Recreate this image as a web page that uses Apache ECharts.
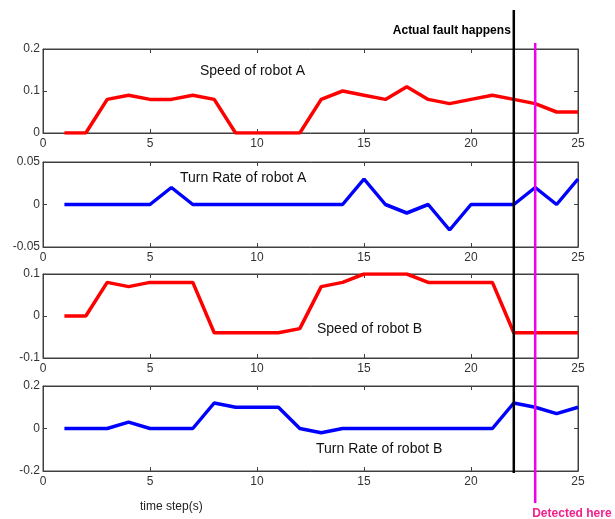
<!DOCTYPE html>
<html>
<head>
<meta charset="utf-8">
<script src="https://cdn.jsdelivr.net/npm/echarts@6/dist/echarts.min.js"></script>
<style>
html,body{margin:0;padding:0;background:#fff;}
#main{width:615px;height:519px;}
</style>
</head>
<body>
<div id="main"></div>
<script>
var timeSteps = [1,2,3,4,5,6,7,8,9,10,11,12,13,14,15,16,17,18,19,20,21,22,23,24,25];
var speedA = [0,0,0.08,0.09,0.08,0.08,0.09,0.08,0,0,0,0,0.08,0.10,0.09,0.08,0.11,0.08,0.07,0.08,0.09,0.08,0.07,0.05,0.05];
var turnA = [0,0,0,0,0,0.02,0,0,0,0,0,0,0,0,0.03,0,-0.01,0,-0.03,0,0,0,0.02,0,0.03];
var speedB = [0,0,0.08,0.07,0.08,0.08,0.08,-0.04,-0.04,-0.04,-0.04,-0.03,0.07,0.08,0.10,0.10,0.10,0.08,0.08,0.08,0.08,-0.04,-0.04,-0.04,-0.04];
var turnB = [0,0,0,0.03,0,0,0,0.12,0.10,0.10,0.10,0,-0.02,0,0,0,0,0,0,0,0,0.12,0.10,0.07,0.10];
var panelTitles = ['Speed of robot A','Turn Rate of robot A','Speed of robot B','Turn Rate of robot B'];
var yRanges = [[0,0.2,0.1],[-0.05,0.05,0.05],[-0.1,0.1,0.1],[-0.2,0.2,0.2]];
var xTicks = [0,25,5];
var faultStep = 22;
var detectStep = 23;
var xLabel = 'time step(s)';
var faultText = 'Actual fault happens';
var detectText = 'Detected here';

var chart = echarts.init(document.getElementById('main'), null, {renderer:'canvas'});
var gridTops = [49,162,274,386];
var gridHeights = [84,85,84,85];
var seriesData = [speedA, turnA, speedB, turnB];
var colors = ['#ff0000','#0000ff','#ff0000','#0000ff'];
var axisColor = '#404040';
var font = 'Arial, "Liberation Sans", sans-serif';

var grids=[], xAxes=[], yAxes=[], series=[];
for (var i=0;i<4;i++){
  grids.push({left:43, width:535, top:gridTops[i], height:gridHeights[i], show:true, borderColor:axisColor, borderWidth:1, backgroundColor:'#fff'});
  var xBase = {type:'value', gridIndex:i, min:xTicks[0], max:xTicks[1], interval:xTicks[2],
    axisLine:{show:true, onZero:false, lineStyle:{color:axisColor,width:1}},
    axisTick:{show:true, inside:true, length:4, lineStyle:{color:axisColor}},
    splitLine:{show:false}};
  xAxes.push(Object.assign({}, xBase, {position:'bottom',
    axisLabel:{show:true, color:'#333', fontSize:12, fontFamily:font, margin:5}}));
  xAxes.push(Object.assign({}, xBase, {position:'top', axisLabel:{show:false}}));
  var yr = yRanges[i];
  var yBase = {type:'value', gridIndex:i, min:yr[0], max:yr[1], interval:yr[2],
    axisLine:{show:true, onZero:false, lineStyle:{color:axisColor,width:1}},
    axisTick:{show:true, inside:true, length:4, lineStyle:{color:axisColor}},
    splitLine:{show:false}};
  yAxes.push(Object.assign({}, yBase, {position:'left',
    axisLabel:{show:true, color:'#333', fontSize:12, fontFamily:font, margin:3}}));
  yAxes.push(Object.assign({}, yBase, {position:'right', axisLabel:{show:false}}));
  series.push({type:'line', xAxisIndex:i*2, yAxisIndex:i*2, showSymbol:false, symbol:'none',
    lineStyle:{color:colors[i], width:3.5}, animation:false,
    data: timeSteps.map(function(t,k){return [t, seriesData[i][k]];})});
}

chart.setOption({
  animation:false,
  grid:grids, xAxis:xAxes, yAxis:yAxes, series:series
});

var pxFault = chart.convertToPixel({xAxisIndex:0}, faultStep);
var pxDetect = chart.convertToPixel({xAxisIndex:0}, detectStep);

var titlePos = [[200,71],[180,178],[317,329],[316,449]];
var graphics = [];
for (var j=0;j<4;j++){
  graphics.push({type:'text', x:titlePos[j][0], y:titlePos[j][1], silent:true, z:10,
    style:{text:panelTitles[j], fill:'#111', font:'14px '+font, textVerticalAlign:'middle'}});
}
graphics.push({type:'text', x:140, y:507, z:10,
  style:{text:xLabel, fill:'#222', font:'12px '+font, textVerticalAlign:'middle'}});
graphics.push({type:'line', z:20, shape:{x1:pxFault, y1:10, x2:pxFault, y2:473},
  style:{stroke:'#000', lineWidth:2.5}});
graphics.push({type:'line', z:20, shape:{x1:pxDetect, y1:43, x2:pxDetect, y2:503},
  style:{stroke:'#ee00ee', lineWidth:2.5}});
graphics.push({type:'text', z:20, x:pxFault-3, y:31,
  style:{text:faultText, fill:'#000', font:'bold 12px '+font, textAlign:'right', textVerticalAlign:'middle'}});
graphics.push({type:'text', z:20, x:pxDetect-3, y:514,
  style:{text:detectText, fill:'#f0208c', font:'bold 12px '+font, textAlign:'left', textVerticalAlign:'middle'}});

chart.setOption({graphic:graphics});
</script>
</body>
</html>
